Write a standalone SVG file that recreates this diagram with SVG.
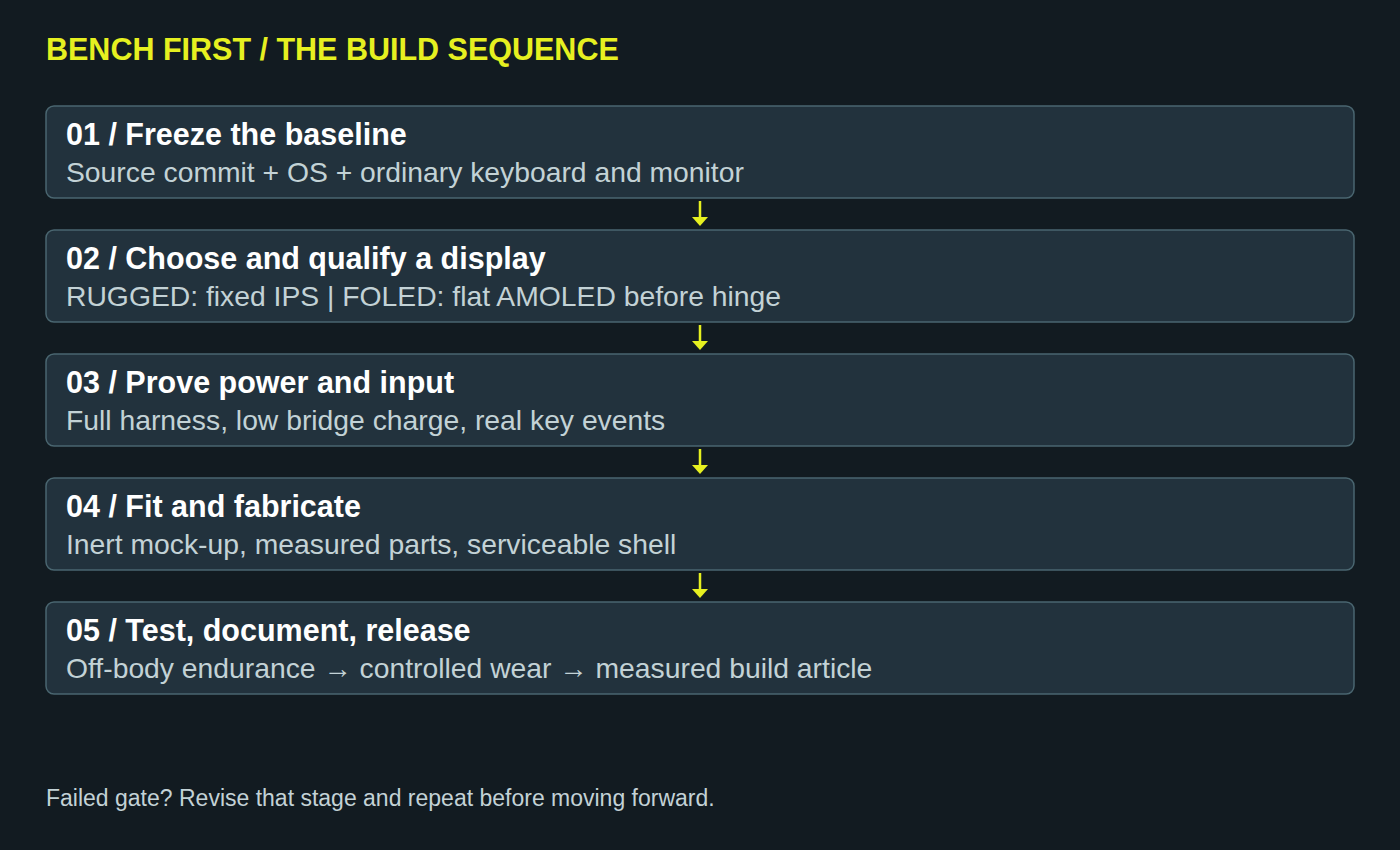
<svg xmlns="http://www.w3.org/2000/svg" width="1400" height="850" viewBox="0 0 1400 850">
<style>
.box{fill:#22323d;stroke:#4a6670;stroke-width:1.5}
.t{font-family:"Liberation Sans",Arial,sans-serif;font-weight:bold;font-size:30.5px;fill:#ffffff}
.s{font-family:"Liberation Sans",Arial,sans-serif;font-size:28.3px;fill:#c3d2d6}
.c{stroke:#e6f020;stroke-width:2.5;fill:none}
.h{fill:#e6f020}
</style>
<rect width="1400" height="850" fill="#121b21"/>
<text x="46" y="60" font-family="Liberation Sans,Arial,sans-serif" font-weight="bold" font-size="30.5" fill="#e6f020">BENCH FIRST / THE BUILD SEQUENCE</text>
<g id="n1"><rect class="box" x="46" y="106" width="1308" height="92" rx="8"/><text class="t" x="66" y="145">01 / Freeze the baseline</text><text class="s" x="66" y="182">Source commit + OS + ordinary keyboard and monitor</text></g>
<g id="n2"><rect class="box" x="46" y="230" width="1308" height="92" rx="8"/><text class="t" x="66" y="269">02 / Choose and qualify a display</text><text class="s" x="66" y="306">RUGGED: fixed IPS | FOLED: flat AMOLED before hinge</text></g>
<g id="n3"><rect class="box" x="46" y="354" width="1308" height="92" rx="8"/><text class="t" x="66" y="393">03 / Prove power and input</text><text class="s" x="66" y="430">Full harness, low bridge charge, real key events</text></g>
<g id="n4"><rect class="box" x="46" y="478" width="1308" height="92" rx="8"/><text class="t" x="66" y="517">04 / Fit and fabricate</text><text class="s" x="66" y="554">Inert mock-up, measured parts, serviceable shell</text></g>
<g id="n5"><rect class="box" x="46" y="602" width="1308" height="92" rx="8"/><text class="t" x="66" y="641">05 / Test, document, release</text><text class="s" x="66" y="678">Off-body endurance → controlled wear → measured build article</text></g>
<g id="connectors">
<path class="c" d="M700 201V218"/><path class="h" d="M692 217H708L700 226Z"/>
<path class="c" d="M700 325V342"/><path class="h" d="M692 341H708L700 350Z"/>
<path class="c" d="M700 449V466"/><path class="h" d="M692 465H708L700 474Z"/>
<path class="c" d="M700 573V590"/><path class="h" d="M692 589H708L700 598Z"/>
</g>
<text x="46" y="806" font-family="Liberation Sans,Arial,sans-serif" font-size="23" fill="#c3d2d6">Failed gate? Revise that stage and repeat before moving forward.</text>
</svg>
